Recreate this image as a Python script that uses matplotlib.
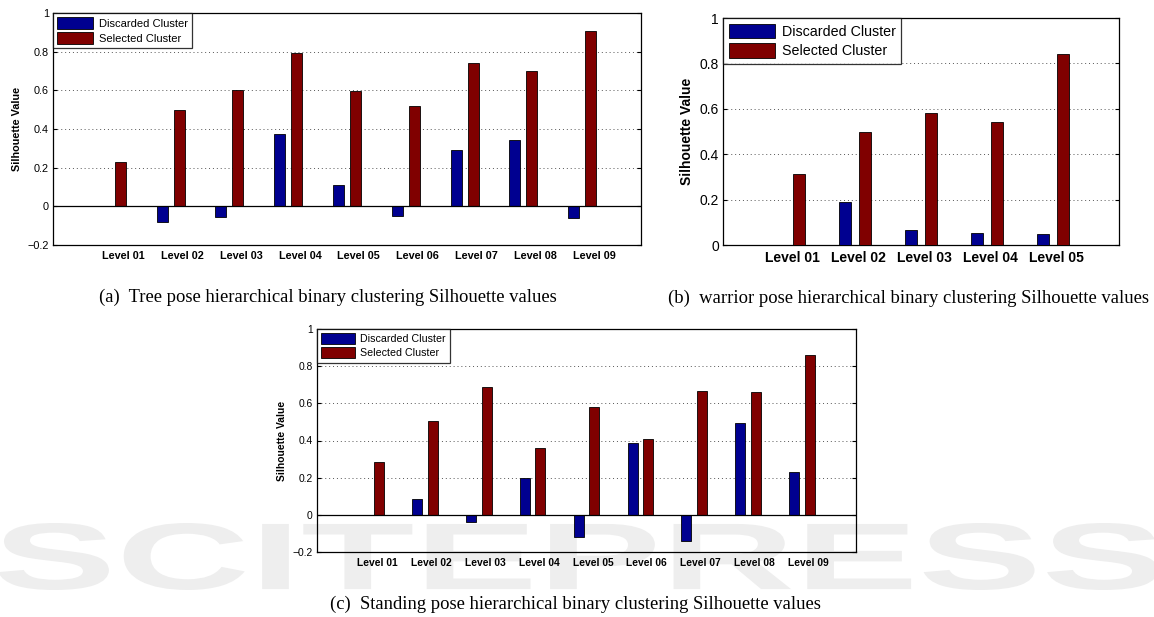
import numpy as np
import matplotlib
matplotlib.use("Agg")
import matplotlib.pyplot as plt
from matplotlib.textpath import TextPath
from matplotlib.patches import PathPatch
from matplotlib.font_manager import FontProperties
from matplotlib.transforms import Affine2D

# data
levels_9 = ["Level 01", "Level 02", "Level 03", "Level 04", "Level 05",
            "Level 06", "Level 07", "Level 08", "Level 09"]
levels_5 = ["Level 01", "Level 02", "Level 03", "Level 04", "Level 05"]

tree_discarded = [0, -0.08, -0.055, 0.376, 0.109, -0.052, 0.29, 0.341, -0.06]
tree_selected = [0.23, 0.497, 0.60, 0.793, 0.597, 0.517, 0.741, 0.698, 0.905]

warrior_discarded = [0, 0.188, 0.068, 0.054, 0.048]
warrior_selected = [0.311, 0.496, 0.58, 0.54, 0.841]

standing_discarded = [0, 0.086, -0.038, 0.20, -0.117, 0.386, -0.14, 0.494, 0.228]
standing_selected = [0.282, 0.507, 0.69, 0.358, 0.58, 0.408, 0.667, 0.659, 0.859]

legend_names = ["Discarded Cluster", "Selected Cluster"]
captions = ["(a)  Tree pose hierarchical binary clustering Silhouette values",
            "(b)  warrior pose hierarchical binary clustering Silhouette values",
            "(c)  Standing pose hierarchical binary clustering Silhouette values"]

blue = "#000090"
red = "#800000"
sans = "Liberation Sans"
serif = "Liberation Serif"

fig = plt.figure(figsize=(11.54, 6.17), dpi=100)

# faint publisher watermark behind everything
tp = TextPath((0, 0), "SCITEPRESS", size=1,
              prop=FontProperties(family=sans, weight="bold"))
ext = tp.get_extents()
sx = 1160 / ext.width / 1154
sy = 67 / ext.height / 617
tr = Affine2D().translate(-ext.x0, -ext.y0).scale(sx, sy).translate(-2 / 1154, 27 / 617)
fig.patches.append(PathPatch(tr.transform_path(tp), transform=fig.transFigure,
                             facecolor="#eeeeee", edgecolor="none", zorder=-5))


def panel(rect, names, disc, sel, ylim, yticks, xlim, width, off, lab_off, fs):
    ax = fig.add_axes(rect)
    ax.patch.set_alpha(0)
    x = np.arange(1, len(names) + 1)
    ax.bar(x - off, disc, width, color=blue, edgecolor="black", linewidth=0.6,
           label=legend_names[0], zorder=3)
    ax.bar(x + off, sel, width, color=red, edgecolor="black", linewidth=0.6,
           label=legend_names[1], zorder=3)
    if ylim[0] < 0:
        ax.axhline(0, color="black", linewidth=0.9, zorder=4)
    ax.set_xlim(xlim)
    ax.set_ylim(ylim)
    ax.set_yticks(yticks)
    ax.set_yticklabels([("%g" % t).replace("-", "\u2212") for t in yticks],
                       fontsize=fs, family=sans)
    ax.set_xticks(x + lab_off)
    ax.set_xticklabels(names, fontsize=fs, family=sans, fontweight="bold")
    ax.tick_params(axis="x", length=0, pad=4)
    ax.tick_params(axis="y", direction="in", length=3, right=True, pad=3,
                   width=0.8)
    ax.yaxis.grid(True, linestyle=(0, (1, 3)), color="#555555", linewidth=0.7)
    ax.set_axisbelow(True)
    for s in ax.spines.values():
        s.set_linewidth(0.9)
    ax.set_ylabel("Silhouette Value", fontsize=fs, family=sans,
                  fontweight="bold", labelpad=4)
    leg = ax.legend(loc="upper left", borderaxespad=0, fancybox=False,
                    prop={"family": sans, "size": fs * 1.03}, handlelength=3.2,
                    handleheight=1.2, labelspacing=0.3, borderpad=0.4,
                    handletextpad=0.5)
    leg.get_frame().set_edgecolor("black")
    leg.get_frame().set_linewidth(0.9)
    leg.set_zorder(6)
    return ax


panel([53 / 1154, 1 - 245 / 617, 588 / 1154, 232 / 617], levels_9,
      tree_discarded, tree_selected, (-0.2, 1), [-0.2, 0, 0.2, 0.4, 0.6, 0.8, 1],
      (0, 10), 0.187, 0.145, 0.2, 7.8)

panel([723 / 1154, 1 - 245 / 617, 396 / 1154, 227 / 617], levels_5,
      warrior_discarded, warrior_selected, (0, 1), [0, 0.2, 0.4, 0.6, 0.8, 1],
      (0, 6), 0.17, 0.15, 0.05, 10)

panel([317 / 1154, 1 - 552 / 617, 539 / 1154, 223 / 617], levels_9,
      standing_discarded, standing_selected, (-0.2, 1),
      [-0.2, 0, 0.2, 0.4, 0.6, 0.8, 1], (0, 10), 0.185, 0.145, 0.12, 7.4)

fig.text(328 / 1154, 1 - 297 / 617, captions[0], ha="center", va="center",
         fontsize=13.4, family=serif)
fig.text(908 / 1154, 1 - 298 / 617, captions[1], ha="center", va="center",
         fontsize=13.4, family=serif)
fig.text(575 / 1154, 1 - 604 / 617, captions[2], ha="center", va="center",
         fontsize=13.4, family=serif)

fig.savefig("out.png", dpi=100)
